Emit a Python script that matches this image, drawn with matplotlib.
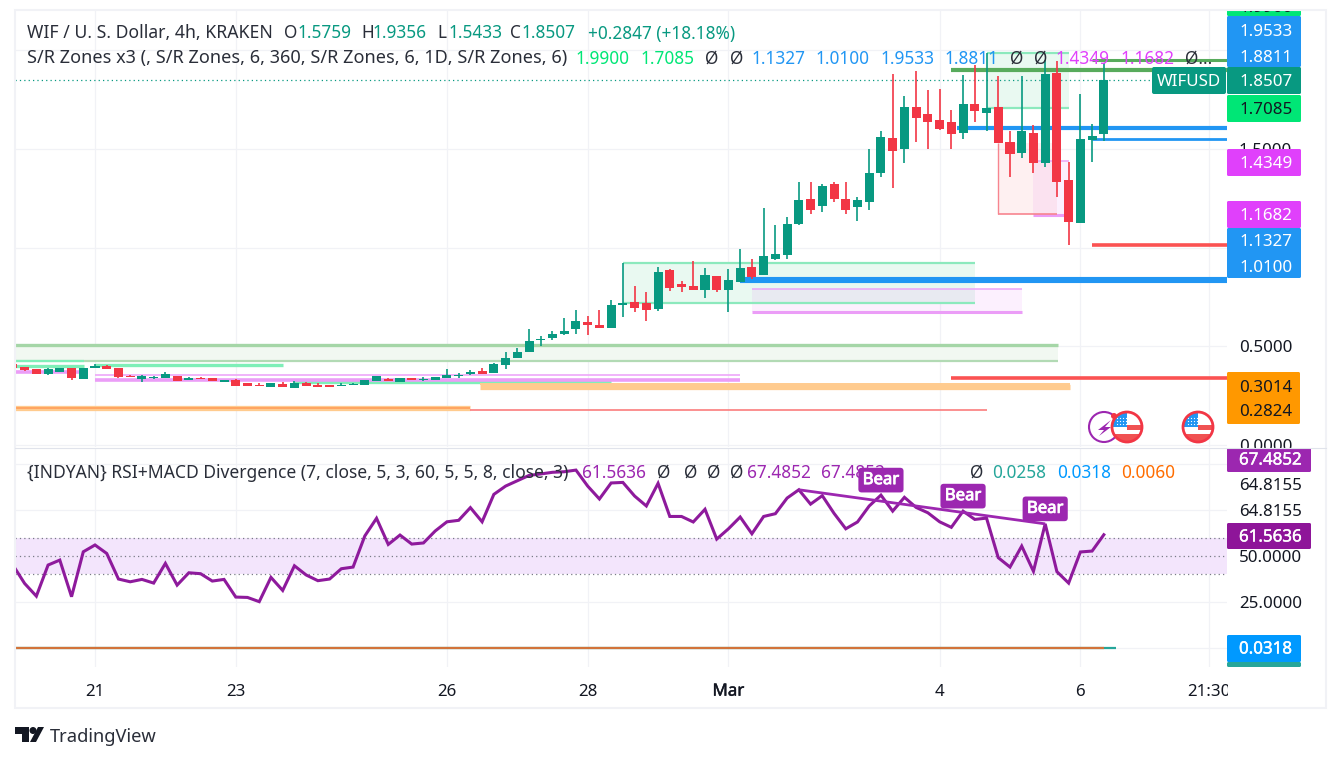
import matplotlib
matplotlib.use("Agg")
import matplotlib.pyplot as plt
import matplotlib.patheffects as pe
from matplotlib.patches import Rectangle, Circle, Polygon, FancyBboxPatch

plt.rcParams["font.family"] = ["Noto Sans", "DejaVu Sans"]

W, H = 1341, 762
GREEN, RED = "#089981", "#f23645"
BLUE, MAGENTA, LIME = "#2196f3", "#e040fb", "#00e676"
PURPLE, DARK = "#9c27b0", "#131722"
GRID = "#f1f2f6"
LABEL_SIZE = 12.2
LEGEND_SIZE = 12.4

# 4h candles, bar 0 is the "21" tick
bars = list(range(-7, 87))
opens = [.411, .395, .385, .360, .370, .390, .334, .390, .400, .390,
         .350, .334, .340, .340, .350, .329, .340, .340, .319, .329,
         .314, .304, .294, .309, .289, .314, .304, .304, .299, .304,
         .304, .324, .334, .319, .340, .329, .329, .340, .350, .360,
         .375, .365, .405, .441, .471, .532, .542, .563, .588, .623,
         .608, .593, .710, .725, .720, .689, .887, .816, .806, .786,
         .856, .786, .826, .902, .862, .943, .963, 1.120, 1.247, 1.211,
         1.323, 1.247, 1.206, 1.232, 1.378, 1.556, 1.500, 1.713, 1.678, 1.647,
         1.637, 1.581, 1.728, 1.683, 1.713, 1.536, 1.480, 1.581, 1.429, 1.885,
         1.343, 1.125, 1.546, 1.5759]
highs = [.411, .395, .385, .392, .392, .390, .390, .411, .405, .390,
         .355, .355, .350, .370, .350, .345, .345, .340, .329, .334,
         .314, .314, .314, .319, .324, .319, .314, .304, .314, .314,
         .329, .350, .340, .340, .340, .345, .345, .385, .365, .380,
         .390, .416, .471, .492, .588, .552, .578, .644, .684, .654,
         .684, .735, .922, .806, .775, .902, .892, .831, .933, .897,
         .856, .892, .993, .943, 1.201, 1.115, 1.155, 1.333, 1.333, 1.323,
         1.333, 1.333, 1.257, 1.500, 1.591, 1.880, 1.769, 1.895, 1.799, 1.804,
         1.698, 1.875, 1.926, 1.987, 1.870, 1.591, 1.870, 1.622, 1.951, 1.946,
         1.434, 1.779, 1.627, 1.9356]
lows = [.390, .375, .360, .355, .370, .329, .334, .390, .385, .340,
        .345, .319, .333, .340, .324, .329, .334, .324, .319, .299,
        .299, .299, .294, .294, .289, .299, .294, .294, .299, .304,
        .304, .324, .324, .319, .329, .324, .329, .340, .340, .355,
        .360, .365, .385, .441, .471, .502, .532, .557, .563, .557,
        .593, .593, .649, .674, .628, .679, .780, .775, .786, .745,
        .775, .674, .826, .841, .862, .938, .943, 1.115, 1.171, 1.181,
        1.232, 1.171, 1.135, 1.191, 1.358, 1.302, 1.429, 1.536, 1.500, 1.596,
        1.500, 1.551, 1.637, 1.591, 1.531, 1.358, 1.455, 1.378, 1.409, 1.257,
        1.014, 1.125, 1.434, 1.5433]
closes = [.390, .380, .360, .385, .390, .340, .390, .400, .385, .345,
          .345, .350, .345, .360, .324, .340, .334, .324, .329, .299,
          .299, .299, .314, .294, .314, .299, .294, .294, .304, .309,
          .329, .350, .324, .340, .329, .334, .345, .355, .355, .370,
          .360, .411, .441, .471, .527, .537, .563, .578, .628, .608,
          .593, .710, .720, .694, .684, .877, .796, .801, .786, .862,
          .786, .836, .897, .851, .958, .968, 1.120, 1.242, 1.191, 1.313,
          1.247, 1.191, 1.242, 1.378, 1.561, 1.490, 1.713, 1.657, 1.637, 1.601,
          1.576, 1.728, 1.693, 1.708, 1.531, 1.475, 1.591, 1.429, 1.880, 1.333,
          1.130, 1.551, 1.566, 1.8507]

rsi = [45.1, 35.1, 28.2, 45.1, 47.8, 27.9, 52.3, 56.0, 51.4, 37.5,
       36.0, 37.3, 35.3, 46.0, 34.2, 40.9, 40.4, 36.4, 37.3, 27.7,
       27.5, 25.2, 38.4, 31.3, 44.7, 39.7, 36.6, 37.5, 43.1, 44.0,
       60.9, 70.5, 56.3, 61.4, 56.5, 57.1, 63.6, 68.6, 69.4, 76.3,
       68.6, 83.5, 88.0, 90.9, 93.8, 94.6, 95.5, 95.8, 96.7, 88.0,
       81.0, 89.7, 90.0, 82.6, 77.2, 89.5, 71.5, 71.5, 68.5, 75.4,
       59.2, 64.8, 71.2, 62.1, 71.5, 73.0, 81.5, 86.0, 78.2, 82.8,
       73.2, 64.8, 68.5, 77.2, 83.1, 74.4, 81.9, 76.4, 73.5, 68.6,
       65.6, 74.4, 69.9, 70.6, 49.1, 44.0, 55.4, 41.7, 67.4852, 41.5,
       35.3, 52.2, 52.7, 61.5636]

macd_bars = [-7, 86]
macd_line = [0.0258, 0.0258]
macd_signal_bars = [-7, 87]
macd_signal = [0.0060, 0.0060]

div_bars = [60, 81]
div_rsi = [86.0, 67.4852]
bear_bars = [67, 74, 81]
bear_rsi = [83.1, 74.4, 67.4852]

time_ticks = [0, 12, 30, 42, 54, 72, 84, 95]
time_labels = ["21", "23", "26", "28", "Mar", "4", "6", "21:30"]

# S/R zones: start bar, end bar, top, bottom
green_box = [(45, 75, .922, .720), (76, 83, 1.987, 1.708)]
pink_box = [(56, 79, .791, .674), (80, 83, 1.439, 1.166)]
red_box = [(77, 82, 1.531, 1.171)]
wide_box = [(-7, 82.1, .507, .426)]

# S/R levels: start bar, end bar, price
bright_levels = [(-7, -.94, .426), (-7, -.94, .400), (0, 16, .408), (17, 44, .319)]
magenta_levels = [(-7, -1.4, .370), (0, 55, .355), (0, 55, .329)]
orange_levels = [(-7, 32, .188), (32.8, 83.1, .309), (32.8, 83.1, .294)]
red_levels = [(32, 76, .177), (73, 96.5, .340), (85, 96.5, 1.014)]
blue_levels = [(55, 96.5, .836), (73.5, 96.5, 1.606), (85, 96.5, 1.551)]
dark_green_levels = [(73, 96.5, 1.900), (85, 96.5, 1.951)]

last_price = 1.8507

fig = plt.figure(figsize=(W / 100, H / 100), dpi=100, facecolor="white")


def pane(top, bottom):
    return fig.add_axes([15 / W, 1 - bottom / H, (1227 - 15) / W, (bottom - top) / H])


ax = pane(10, 447)
ax2 = pane(448, 667)
over = fig.add_axes([0, 0, 1, 1], zorder=10)
over.set_xlim(0, W)
over.set_ylim(H, 0)
over.axis("off")

for a in (ax, ax2):
    a.set_xlim(-6.82, 96.5)
    a.set_xticks(time_ticks)
    a.yaxis.tick_right()
    a.grid(True, color=GRID, lw=.9)
    a.set_axisbelow(True)
    a.tick_params(length=0, pad=8.5, labelsize=LABEL_SIZE, labelcolor=DARK)
    for s in a.spines.values():
        s.set_visible(False)

ax.set_ylim(-.01, 2.205)
ax.set_yticks([0, .5, 1, 1.5, 2])
ax.set_yticklabels(["0.0000", "0.5000", "", "1.5000", ""])
ax.set_xticklabels([])

ax2.set_ylim(-10.3, 108.7)
ax2.set_yticks([0, 25, 50, 75, 100])
ax2.set_yticklabels(["", "25.0000", "50.0000", "", ""])
ax2.set_xticklabels(time_labels, fontsize=LABEL_SIZE, color=DARK)
ax2.tick_params(axis="x", pad=12)
for t in ax2.get_xticklabels():
    if t.get_text() == "Mar":
        t.set_path_effects([pe.withStroke(linewidth=.3, foreground=DARK)])

# zones
for x0, x1, top, bot in wide_box:
    ax.add_patch(Rectangle((x0, bot), x1 - x0, top - bot, fc="#f1f8f1", ec="none", zorder=1))
    ax.hlines(top, x0, x1, color="#a5d6a7", lw=2.4, zorder=2)
    ax.hlines(bot, x0, x1, color="#b2dab4", lw=1.6, zorder=2)
for x0, x1, top, bot in green_box:
    ax.add_patch(Rectangle((x0, bot), x1 - x0, top - bot, fc="#e9f9f1", ec="none", zorder=1))
    ax.hlines([top, bot], x0, x1, color="#8ce9bd", lw=1.6, zorder=2)
for x0, x1, top, bot in pink_box:
    ax.add_patch(Rectangle((x0, bot), x1 - x0, top - bot, fc=MAGENTA, alpha=.08, ec="none", zorder=1))
    ax.hlines(top, x0, x1, color="#ecaaf8", lw=1.2, zorder=2)
    ax.hlines(bot, x0, x1, color="#eb9df7", lw=2.2, zorder=2)
for x0, x1, top, bot in red_box:
    ax.add_patch(Rectangle((x0, bot), x1 - x0, top - bot, fc=RED, alpha=.07, ec="none", zorder=1))
    ax.vlines(x0, bot, top, color="#f7858f", lw=1, zorder=2)
    ax.hlines(bot, x0, x1, color="#f7858f", lw=1.2, zorder=2)

for i, (x0, x1, y) in enumerate(bright_levels):
    ax.hlines(y, x0, x1, color="#7fefb8", lw=2.4 if i > 0 else 1.6, zorder=2)
for i, (x0, x1, y) in enumerate(magenta_levels):
    ax.hlines(y, x0, x1, color="#eea7f9" if i == 1 else "#eb9df7", lw=1.2 if i == 1 else 2.6, zorder=2)
for i, (x0, x1, y) in enumerate(orange_levels):
    ax.hlines(y, x0, x1, color="#ffcb8e", lw=1.4 if i == 1 else 3.8, zorder=2)
    if i == 0:
        ax.hlines(y, x0, x1, color="#ff9a55", lw=1.1, zorder=2)
for i, (x0, x1, y) in enumerate(red_levels):
    ax.hlines(y, x0, x1, color="#fb7d7d" if i == 0 else "#fb5252", lw=1.2 if i == 0 else 2.6, zorder=2)
for i, (x0, x1, y) in enumerate(blue_levels):
    ax.hlines(y, x0, x1, color=BLUE, lw=[4.4, 3, 2][i], zorder=2)
for i, (x0, x1, y) in enumerate(dark_green_levels):
    ax.hlines(y, x0, x1, color="#58ab5c", lw=[3, 2.2][i], zorder=2)

ax.axhline(last_price, color=GREEN, lw=.9, ls=(0, (1, 2.5)), zorder=2)

# candles
colors = [GREEN if c >= o else RED for o, c in zip(opens, closes)]
ax.vlines(bars, lows, highs, color=colors, lw=1.2, zorder=3)
ax.bar(bars, [max(abs(c - o), .005) for o, c in zip(opens, closes)],
       bottom=[min(o, c) for o, c in zip(opens, closes)],
       width=.77, color=colors, lw=0, zorder=4)

# RSI pane
ax2.axhspan(40, 60, color="#f3e5fc", lw=0, zorder=1)
ax2.hlines([60, 50, 40], -6.82, 96.5, color="#787b86", lw=.9, ls=(0, (1, 2.5)), zorder=2)
ax2.plot(macd_signal_bars, macd_signal, color="#26a69a", lw=1.6, zorder=3, solid_capstyle="butt")
ax2.plot(macd_bars, macd_line, color="#d2733a", lw=1.6, zorder=3, solid_capstyle="butt")
ax2.plot(bars, rsi, color="#8e1a9c", lw=2.2, zorder=4, solid_joinstyle="miter")
ax2.plot(div_bars, div_rsi, color=PURPLE, lw=2, zorder=4, solid_capstyle="butt")
for b, v in zip(bear_bars, bear_rsi):
    ax2.annotate("Bear", (b, v), xytext=(0, 7), textcoords="offset pixels", ha="center", va="bottom",
                 color="white", fontsize=12, zorder=8, annotation_clip=False,
                 path_effects=[pe.withStroke(linewidth=.6, foreground="white")],
                 bbox=dict(boxstyle="round,pad=0.26,rounding_size=0.2", fc=PURPLE, ec="none"))


def legend(target, x, y, s, color="#2a2e39", size=LEGEND_SIZE):
    target.text(x, y + 1.5, s, color=color, fontsize=size, va="center", ha="left", zorder=5,
                transform=over.transData, clip_on=False)


for x, s, c in [(284, "O", "#2a2e39"), (298, "1.5759", GREEN),
                (361, "H", "#2a2e39"), (373, "1.9356", GREEN), (437, "L", "#2a2e39"), (449, "1.5433", GREEN),
                (510, "C", "#2a2e39"), (522, "1.8507", GREEN), (588, "+0.2847 (+18.18%)", GREEN)]:
    legend(over, x, 32, s, c)
legend(over, 27, 32, "WIF / U. S. Dollar, 4h, KRAKEN", size=12.7)

for x, s, c in [(576, "1.9900", LIME), (641, "1.7085", LIME), (705, "Ø", "#2a2e39"), (730, "Ø", "#2a2e39"),
                (752, "1.1327", BLUE), (816, "1.0100", BLUE), (881, "1.9533", BLUE), (945, "1.8811", BLUE),
                (1010, "Ø", "#2a2e39"), (1034, "Ø", "#2a2e39"), (1056, "1.4349", MAGENTA), (1121, "1.1682", MAGENTA),
                (1185, "Ø...", "#2a2e39")]:
    legend(over, x, 57, s, c)
legend(over, 27, 57, "S/R Zones x3 (, S/R Zones, 6, 360, S/R Zones, 6, 1D, S/R Zones, 6)", size=13)

for x, s, c in [(582, "61.5636", PURPLE), (657, "Ø", "#2a2e39"), (684, "Ø", "#2a2e39"), (707, "Ø", "#2a2e39"),
                (730, "Ø", "#2a2e39"), (747, "67.4852", PURPLE), (821, "67.4852", PURPLE), (970, "Ø", "#2a2e39"),
                (992, "0.0258", "#26a69a"), (1057, "0.0318", "#0099ff"), (1121, "0.0060", "#ff6d00")]:
    legend(ax2, x, 471, s, c)
legend(ax2, 27, 471, "{INDYAN} RSI+MACD Divergence (7, close, 5, 3, 60, 5, 5, 8, close, 3)", size=12.6)

# frame
over.add_patch(Rectangle((0, 0), W, 9, fc="white", ec="none", zorder=9))
over.add_patch(Rectangle((1228, 668), 98, 40, fc="white", ec="none", zorder=2))
over.add_patch(Rectangle((15, 9.5), 1311, 698.5, fc="none", ec=GRID, lw=1.5, zorder=10))
over.plot([15, 1326], [447.5, 447.5], color="#e0e3eb", lw=.8, zorder=10)


def price_box(x1, y0, y1, color):
    over.add_patch(FancyBboxPatch((1227, y0), x1 - 1227, y1 - y0, fc=color, ec="none", zorder=6,
                                  boxstyle="round,pad=0,rounding_size=1.5"))


def price_text(y, s, color="white", bold=False):
    t = over.text(1239, y + 1.5, s, color=color, fontsize=LABEL_SIZE, va="center", ha="left", zorder=7)
    if bold:
        t.set_path_effects([pe.withStroke(linewidth=.3, foreground=color)])


price_box(1301, 2, 16, LIME)
over.text(1239, 12, "1.9900", color=DARK, fontsize=LABEL_SIZE, va="baseline", ha="left", zorder=7)
price_box(1301, 16, 67, BLUE)
price_text(30, "1.9533")
price_text(56, "1.8811")
price_box(1301, 67, 94, GREEN)
price_text(81, "1.8507")
price_box(1301, 95, 122, LIME)
price_text(109, "1.7085", DARK)
price_box(1301, 149, 176, MAGENTA)
price_text(163, "1.4349")
price_box(1301, 201, 228, MAGENTA)
price_text(215, "1.1682")
price_box(1301, 228, 278, BLUE)
price_text(240, "1.1327")
price_text(266, "1.0100")
price_box(1300, 372, 424, "#ff9800")
price_text(386, "0.3014", DARK)
price_text(411, "0.2824", DARK)
price_box(1311, 448, 472, PURPLE)
price_text(459, "67.4852", bold=True)
price_text(484, "64.8155", DARK)
price_text(510, "64.8155", DARK)
price_box(1311, 523, 549, "#8e1599")
price_text(536, "61.5636", bold=True)
price_box(1301, 662, 667, "#26a69a")
price_box(1301, 635, 662, "#0099ff")
price_text(648, "0.0318", bold=True)

over.add_patch(FancyBboxPatch((1152, 67), 74, 27, fc=GREEN, ec="none", zorder=6,
                              boxstyle="round,pad=0,rounding_size=2"))
over.text(1189, 82, "WIFUSD", color="white", fontsize=12.2, va="center", ha="center", zorder=7)

# events
over.add_patch(Circle((1104, 427), 15, fc="white", ec=PURPLE, lw=1.5, zorder=5))
over.add_patch(Polygon([(1111, 420), (1098, 430), (1104, 430), (1099, 436), (1111, 427), (1105, 427)],
                       fc=PURPLE, ec="none", zorder=5))
over.add_patch(Circle((1114, 416), 3, fc=RED, ec="none", zorder=6))
for cx in (1127, 1198):
    ring = Circle((cx, 427), 15, fc="white", ec="none", zorder=6)
    over.add_patch(ring)
    for xy, w, h, c in [((cx - 14, 413), 14, 14, BLUE), ((cx, 425), 14, 5, "#f05252"), ((cx - 14, 434), 28, 8, "#f05252")]:
        p = Rectangle(xy, w, h, fc=c, ec="none", zorder=6)
        over.add_patch(p)
        p.set_clip_path(ring)
    for dx in (-10, -7, -4, -1):
        for dy in (-9, -6, -3):
            over.plot(cx + dx, 427 + dy, "o", ms=.9, color="white", mew=0, zorder=6)
    over.add_patch(Circle((cx, 427), 15, fc="none", ec=RED, lw=2, zorder=6))

# logo
over.add_patch(Polygon([(15, 727), (29, 727), (29, 742), (22, 742), (22, 734), (15, 734)], fc="#131722", ec="none"))
over.add_patch(Circle((33, 730.5), 3.5, fc="#131722", ec="none"))
over.add_patch(Polygon([(38, 727), (44, 727), (36, 742), (30, 742)], fc="#131722", ec="none"))
over.text(50, 737, "TradingView", color="#2a2e39", fontsize=13.2, va="center", ha="left")

fig.savefig("out.png", dpi=100)
